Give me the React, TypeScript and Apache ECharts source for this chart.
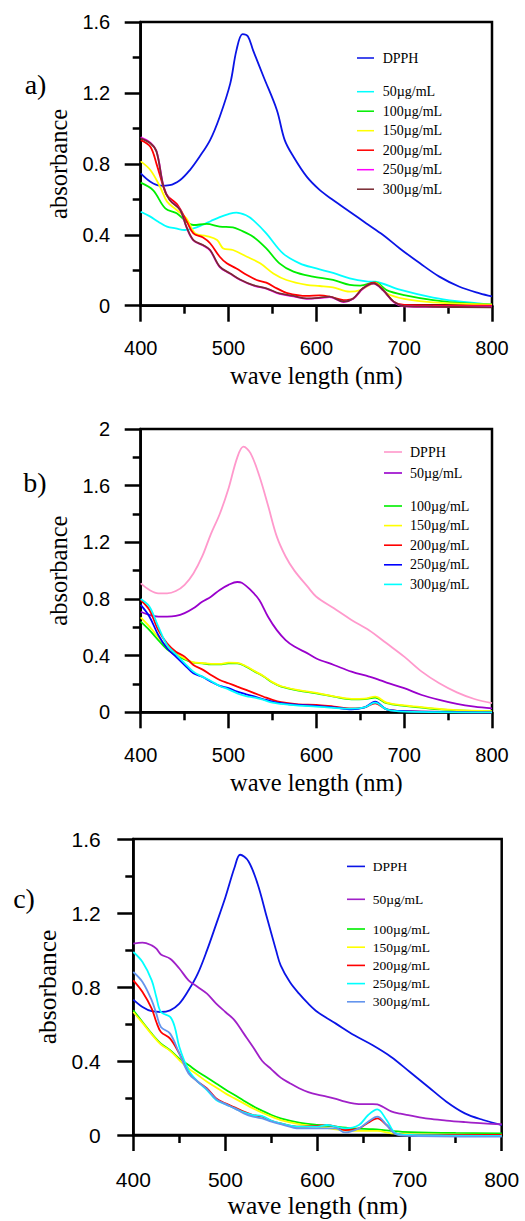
import React, { useEffect, useRef } from 'react';
import * as echarts from 'echarts';

type P = [number, number][];

// ---------- Panel a ----------
const aDPPH: P = [[400,0.746],[411,0.699],[422,0.677],[433,0.68],[445,0.709],[456,0.765],[467,0.84],[479,0.934],[490,1.066],[502,1.254],[509,1.44],[516,1.532],[522,1.52],[528,1.44],[540,1.29],[555,1.104],[564,0.934],[574,0.84],[589,0.728],[604,0.652],[619,0.596],[638,0.53],[657,0.464],[676,0.399],[695,0.323],[718,0.239],[740,0.164],[763,0.107],[786,0.07],[800,0.053]];
const a50: P = [[400,0.53],[410,0.505],[420,0.474],[430,0.446],[440,0.436],[450,0.427],[460,0.436],[470,0.455],[480,0.478],[490,0.50],[500,0.517],[509,0.525],[520,0.51],[528,0.483],[543,0.408],[562,0.295],[581,0.239],[600,0.21],[619,0.185],[638,0.154],[657,0.137],[667,0.135],[695,0.09],[733,0.045],[760,0.025],[800,0.005]];
const a100: P = [[400,0.694],[414,0.652],[428,0.549],[441,0.521],[452,0.474],[460,0.455],[475,0.461],[490,0.446],[505,0.442],[513,0.427],[528,0.389],[543,0.323],[558,0.239],[574,0.192],[596,0.164],[619,0.145],[638,0.117],[650,0.113],[667,0.132],[680,0.088],[700,0.06],[733,0.032],[771,0.013],[800,0.008]];
const a150: P = [[400,0.814],[411,0.765],[422,0.671],[430,0.587],[441,0.54],[452,0.493],[462,0.408],[475,0.393],[487,0.37],[494,0.323],[505,0.314],[521,0.276],[536,0.239],[551,0.182],[566,0.145],[589,0.117],[604,0.111],[619,0.103],[638,0.079],[650,0.088],[667,0.128],[680,0.07],[700,0.038],[733,0.019],[800,0.006]];
const a200: P = [[400,0.934],[411,0.897],[418,0.80],[426,0.668],[430,0.621],[441,0.574],[452,0.48],[460,0.408],[471,0.385],[479,0.352],[490,0.276],[498,0.239],[509,0.21],[521,0.173],[532,0.145],[543,0.13],[555,0.098],[566,0.073],[589,0.055],[604,0.058],[615,0.051],[631,0.032],[642,0.041],[653,0.098],[665,0.13],[676,0.088],[688,0.023],[700,0.004],[800,0]];
const a250: P = [[400,0.95],[411,0.92],[418,0.872],[426,0.674],[433,0.598],[445,0.54],[452,0.444],[460,0.368],[471,0.34],[479,0.312],[490,0.218],[502,0.18],[513,0.146],[528,0.114],[543,0.096],[558,0.067],[574,0.053],[589,0.039],[604,0.043],[615,0.049],[631,0.021],[642,0.039],[653,0.096],[665,0.124],[676,0.086],[688,0.021],[700,-0.003],[733,-0.006],[800,-0.006]];
const a300: P = [[400,0.944],[411,0.916],[418,0.869],[426,0.671],[433,0.596],[445,0.54],[452,0.446],[460,0.37],[471,0.342],[479,0.314],[490,0.22],[502,0.182],[513,0.148],[528,0.116],[543,0.098],[558,0.069],[574,0.055],[589,0.041],[604,0.045],[615,0.051],[631,0.023],[642,0.041],[653,0.098],[665,0.126],[676,0.088],[688,0.023],[700,-0.002],[733,-0.006],[800,-0.009]];

// ---------- Panel b ----------
const bDPPH: P = [[400,0.91],[410,0.864],[420,0.84],[430,0.84],[440,0.856],[450,0.90],[460,0.98],[470,1.10],[480,1.26],[490,1.40],[500,1.58],[510,1.80],[517,1.875],[525,1.83],[535,1.67],[545,1.46],[555,1.24],[565,1.10],[575,1.0],[590,0.887],[600,0.816],[620,0.734],[640,0.652],[660,0.58],[680,0.487],[700,0.393],[720,0.287],[740,0.205],[760,0.141],[780,0.094],[800,0.064]];
const b50: P = [[400,0.71],[410,0.687],[420,0.675],[430,0.675],[440,0.68],[450,0.70],[460,0.734],[470,0.78],[480,0.816],[490,0.864],[500,0.90],[510,0.92],[515,0.915],[525,0.864],[535,0.793],[545,0.675],[555,0.58],[565,0.51],[575,0.464],[590,0.416],[600,0.38],[620,0.334],[640,0.287],[660,0.252],[670,0.233],[680,0.21],[700,0.17],[720,0.122],[740,0.087],[760,0.059],[780,0.04],[800,0.028]];
const b100: P = [[400,0.64],[410,0.58],[420,0.51],[430,0.445],[440,0.405],[450,0.374],[460,0.35],[470,0.346],[480,0.339],[490,0.339],[500,0.346],[510,0.346],[520,0.322],[530,0.287],[540,0.252],[550,0.21],[560,0.181],[580,0.153],[600,0.134],[620,0.11],[640,0.092],[655,0.094],[667,0.104],[680,0.064],[700,0.045],[720,0.033],[740,0.021],[760,0.014],[800,0.007]];
const b150: P = [[400,0.67],[410,0.605],[420,0.53],[430,0.464],[440,0.416],[450,0.38],[460,0.353],[470,0.348],[480,0.342],[490,0.342],[500,0.35],[510,0.349],[520,0.325],[530,0.29],[540,0.255],[550,0.213],[560,0.184],[580,0.156],[600,0.137],[620,0.113],[640,0.095],[655,0.097],[667,0.11],[680,0.068],[700,0.049],[720,0.036],[740,0.024],[760,0.016],[800,0.009]];
const b200: P = [[400,0.793],[410,0.722],[420,0.58],[430,0.487],[440,0.428],[450,0.393],[460,0.334],[470,0.303],[480,0.264],[490,0.228],[500,0.205],[510,0.181],[520,0.158],[530,0.134],[540,0.11],[550,0.087],[560,0.071],[580,0.056],[600,0.052],[620,0.04],[640,0.028],[655,0.035],[667,0.064],[680,0.021],[700,0.009],[800,0]];
const b250: P = [[400,0.758],[410,0.675],[420,0.546],[430,0.452],[440,0.393],[450,0.334],[460,0.275],[470,0.252],[480,0.216],[490,0.186],[500,0.17],[510,0.146],[520,0.127],[530,0.11],[540,0.092],[550,0.075],[560,0.064],[580,0.052],[600,0.045],[620,0.035],[640,0.021],[655,0.035],[667,0.075],[680,0.021],[700,0.009],[800,0]];
const b300: P = [[400,0.80],[410,0.746],[420,0.605],[430,0.475],[440,0.41],[450,0.346],[460,0.287],[470,0.252],[480,0.221],[490,0.186],[500,0.162],[510,0.134],[520,0.115],[530,0.104],[540,0.087],[550,0.068],[560,0.059],[580,0.047],[600,0.04],[620,0.031],[640,0.026],[655,0.035],[667,0.068],[680,0.021],[700,0.005],[800,0]];

// ---------- Panel c ----------
const cDPPH: P = [[400,0.732],[410,0.692],[420,0.669],[430,0.665],[440,0.674],[450,0.71],[460,0.782],[470,0.872],[480,0.998],[490,1.14],[500,1.285],[510,1.447],[516,1.515],[525,1.48],[535,1.357],[545,1.177],[555,0.998],[560,0.917],[570,0.827],[580,0.764],[590,0.71],[600,0.665],[620,0.602],[640,0.539],[660,0.485],[680,0.422],[700,0.342],[720,0.261],[740,0.18],[760,0.117],[780,0.081],[800,0.054]];
const c50: P = [[400,1.034],[410,1.04],[420,1.025],[425,1.007],[430,0.976],[440,0.953],[450,0.90],[460,0.836],[470,0.80],[480,0.764],[490,0.71],[500,0.665],[510,0.62],[520,0.548],[530,0.476],[540,0.40],[550,0.355],[560,0.31],[570,0.28],[580,0.253],[590,0.232],[600,0.218],[610,0.208],[620,0.195],[630,0.18],[640,0.17],[650,0.167],[660,0.167],[665,0.165],[670,0.155],[680,0.128],[690,0.115],[700,0.106],[720,0.088],[740,0.078],[760,0.07],[780,0.063],[800,0.058]];
const c100: P = [[400,0.674],[410,0.611],[420,0.548],[430,0.494],[440,0.458],[450,0.413],[460,0.378],[470,0.342],[480,0.311],[490,0.279],[500,0.246],[510,0.216],[520,0.185],[530,0.156],[540,0.131],[550,0.108],[560,0.09],[580,0.067],[600,0.054],[620,0.045],[640,0.036],[660,0.031],[670,0.027],[680,0.022],[700,0.016],[750,0.011],[800,0.009]];
const c150: P = [[400,0.665],[410,0.606],[420,0.544],[430,0.489],[440,0.455],[450,0.405],[460,0.36],[470,0.324],[480,0.288],[490,0.257],[500,0.225],[510,0.198],[520,0.171],[530,0.144],[540,0.12],[550,0.099],[560,0.081],[580,0.059],[600,0.045],[620,0.031],[640,0.022],[665,0.022],[680,0.009],[700,0.004],[800,0]];
const c200: P = [[400,0.836],[410,0.773],[420,0.683],[425,0.611],[430,0.557],[440,0.521],[450,0.44],[460,0.342],[470,0.288],[480,0.252],[490,0.198],[500,0.171],[510,0.149],[520,0.126],[530,0.108],[540,0.099],[550,0.077],[560,0.063],[580,0.045],[600,0.049],[610,0.054],[620,0.045],[630,0.027],[645,0.036],[655,0.067],[665,0.09],[675,0.054],[685,0.009],[700,0],[800,0]];
const c250: P = [[400,0.989],[410,0.935],[420,0.836],[425,0.746],[430,0.665],[440,0.638],[445,0.584],[450,0.476],[460,0.351],[470,0.288],[480,0.243],[490,0.189],[500,0.167],[510,0.144],[520,0.122],[530,0.108],[540,0.102],[550,0.077],[560,0.063],[580,0.045],[600,0.045],[610,0.054],[620,0.045],[630,0.036],[645,0.054],[655,0.108],[665,0.138],[675,0.081],[685,0.009],[700,0],[800,-0.005]];
const c300: P = [[400,0.881],[410,0.827],[420,0.728],[425,0.656],[430,0.584],[440,0.548],[450,0.44],[460,0.333],[470,0.288],[480,0.248],[490,0.194],[500,0.167],[510,0.144],[520,0.117],[530,0.099],[540,0.09],[550,0.072],[560,0.059],[580,0.036],[600,0.036],[620,0.036],[630,0.014],[645,0.036],[655,0.072],[665,0.099],[675,0.054],[685,0.004],[700,-0.005],[800,-0.009]];

const legendLabels = ['DPPH', '50µg/mL', '100µg/mL', '150µg/mL', '200µg/mL', '250µg/mL', '300µg/mL'];
const xTicks = [400, 500, 600, 700, 800];

const SERIF = "'Liberation Serif', 'Times New Roman', serif";
const SANS = "'Liberation Sans', Arial, sans-serif";
const LINE_ICON = 'path://M0,0H20V1.8H0Z';

interface LegendGroup { items: number[]; left: number; top: number; gap: number; pad: number[]; }
interface Panel {
  id: string; tag: string; tagX: number; tagY: number;
  grid: { left: number; top: number; width: number; height: number };
  yMax: number; labelFs: number; nameFs: number;
  xLabelMargin: number; yLabelMargin: number; xNameGap: number; yNameGap: number;
  data: P[]; colors: string[]; legendFs: number; iconW: number; legends: LegendGroup[];
}

const panels: Panel[] = [
  {
    id: 'a', tag: 'a)', tagX: 35.5, tagY: 84,
    grid: { left: 140.7, top: 22, width: 351.3, height: 283.7 },
    yMax: 1.6, labelFs: 20, nameFs: 24.5, xLabelMargin: 32, yLabelMargin: 30.5, xNameGap: 57, yNameGap: 65.5,
    data: [aDPPH, a50, a100, a150, a200, a250, a300],
    colors: ['#0a14e6', '#00ffff', '#00ee00', '#ffff00', '#ff0000', '#ff00ff', '#7a2b33'],
    legendFs: 14, iconW: 17,
    legends: [
      { items: [0], left: 357, top: 51, gap: 0, pad: [0, 0, 10, 3.7] },
      { items: [1, 2, 3, 4, 5, 6], left: 357, top: 84.7, gap: 5.5, pad: [0, 0, 0, 3.7] },
    ],
  },
  {
    id: 'b', tag: 'b)', tagX: 35, tagY: 482,
    grid: { left: 140.7, top: 429, width: 351.3, height: 283.3 },
    yMax: 2, labelFs: 20, nameFs: 24.5, xLabelMargin: 32.7, yLabelMargin: 30.5, xNameGap: 58, yNameGap: 65.5,
    data: [bDPPH, b50, b100, b150, b200, b250, b300],
    colors: ['#ff99cc', '#9900cc', '#00ee00', '#ffff00', '#ff0000', '#0000ff', '#00ffff'],
    legendFs: 14, iconW: 18,
    legends: [
      { items: [0], left: 384, top: 445, gap: 0, pad: [0, 0, 0, 3] },
      { items: [1], left: 384, top: 466, gap: 0, pad: [0, 0, 10, 3] },
      { items: [2, 3, 4, 5, 6], left: 384, top: 499, gap: 5.6, pad: [0, 0, 0, 3] },
    ],
  },
  {
    id: 'c', tag: 'c)', tagX: 24, tagY: 898.5,
    grid: { left: 133.3, top: 839, width: 368.4, height: 296 },
    yMax: 1.6, labelFs: 21, nameFs: 25.5, xLabelMargin: 33.5, yLabelMargin: 32.6, xNameGap: 57, yNameGap: 68.6,
    data: [cDPPH, c50, c100, c150, c200, c250, c300],
    colors: ['#0a14e6', '#a020c8', '#00ee00', '#ffff00', '#ff0000', '#00ffff', '#6495ed'],
    legendFs: 13.5, iconW: 18,
    legends: [
      { items: [0], left: 347, top: 859.4, gap: 0, pad: [0, 0, 13, 2.7] },
      { items: [1], left: 347, top: 892.3, gap: 0, pad: [0, 0, 10, 2.7] },
      { items: [2, 3, 4, 5, 6], left: 347, top: 922, gap: 4.2, pad: [0, 0, 0, 2.7] },
    ],
  },
];

function buildOption() {
  const grid: any[] = [];
  const xAxis: any[] = [];
  const yAxis: any[] = [];
  const series: any[] = [];
  const legend: any[] = [];
  const graphic: any[] = [];

  panels.forEach((p, i) => {
    grid.push({
      left: p.grid.left, top: p.grid.top, width: p.grid.width, height: p.grid.height,
      show: true, borderColor: '#000', borderWidth: 2.5, backgroundColor: 'transparent',
    });
    const common = {
      gridIndex: i,
      type: 'value',
      axisLine: { show: true, onZero: false, lineStyle: { color: '#000', width: 2.5 } },
      splitLine: { show: false },
      minorSplitLine: { show: false },
      nameLocation: 'middle',
      nameTextStyle: { fontFamily: SERIF, fontSize: p.nameFs, color: '#000' },
    };
    xAxis.push({
      ...common,
      min: xTicks[0], max: xTicks[xTicks.length - 1], interval: 100,
      name: 'wave length (nm)', nameGap: p.xNameGap,
      axisTick: { show: true, inside: false, length: 16, lineStyle: { color: '#000', width: 2.5 } },
      minorTick: { show: true, splitNumber: 2, length: 8, lineStyle: { color: '#000', width: 2.5 } },
      axisLabel: { fontFamily: SANS, fontSize: p.labelFs, color: '#000', margin: p.xLabelMargin },
    });
    yAxis.push({
      ...common,
      min: 0, max: p.yMax, interval: 0.4,
      name: 'absorbance', nameGap: p.yNameGap, nameRotate: 90,
      axisTick: { show: true, inside: false, length: 16, lineStyle: { color: '#000', width: 2.5 } },
      minorTick: { show: true, splitNumber: 2, length: 8, lineStyle: { color: '#000', width: 2.5 } },
      axisLabel: { fontFamily: SANS, fontSize: p.labelFs, color: '#000', margin: p.yLabelMargin },
    });
    p.data.forEach((d, k) => {
      series.push({
        type: 'line',
        name: `${p.id}|${legendLabels[k]}`,
        xAxisIndex: i, yAxisIndex: i,
        data: d,
        symbol: 'none',
        smooth: 0.35,
        clip: false,
        lineStyle: { color: p.colors[k], width: 1.8 },
        itemStyle: { color: p.colors[k] },
        z: 3 + k,
      });
    });
    p.legends.forEach((g) => {
      legend.push({
        orient: 'vertical',
        left: g.left, top: g.top,
        padding: 0,
        itemGap: g.gap,
        itemWidth: p.iconW, itemHeight: 14,
        icon: LINE_ICON,
        symbolKeepAspect: true,
        selectedMode: false,
        data: g.items.map((k) => `${p.id}|${legendLabels[k]}`),
        formatter: (name: string) => name.split('|')[1],
        textStyle: { fontFamily: SERIF, fontSize: p.legendFs, color: '#000', padding: g.pad },
      });
    });
    graphic.push({
      type: 'text',
      x: p.tagX, y: p.tagY,
      style: { text: p.tag, font: `28px ${SERIF}`, fill: '#000', align: 'center', verticalAlign: 'middle' },
    });
  });

  return {
    animation: false,
    backgroundColor: '#fff',
    grid, xAxis, yAxis, series, legend, graphic,
  };
}

export default function App() {
  const ref = useRef<HTMLDivElement>(null);
  useEffect(() => {
    if (!ref.current) return;
    const chart = echarts.init(ref.current, null, { renderer: 'svg' });
    chart.setOption(buildOption() as any);
    return () => chart.dispose();
  }, []);
  return (
    <div
      ref={ref}
      style={{ position: 'absolute', left: 0, top: 0, width: 525, height: 1221, background: '#fff' }}
    />
  );
}
